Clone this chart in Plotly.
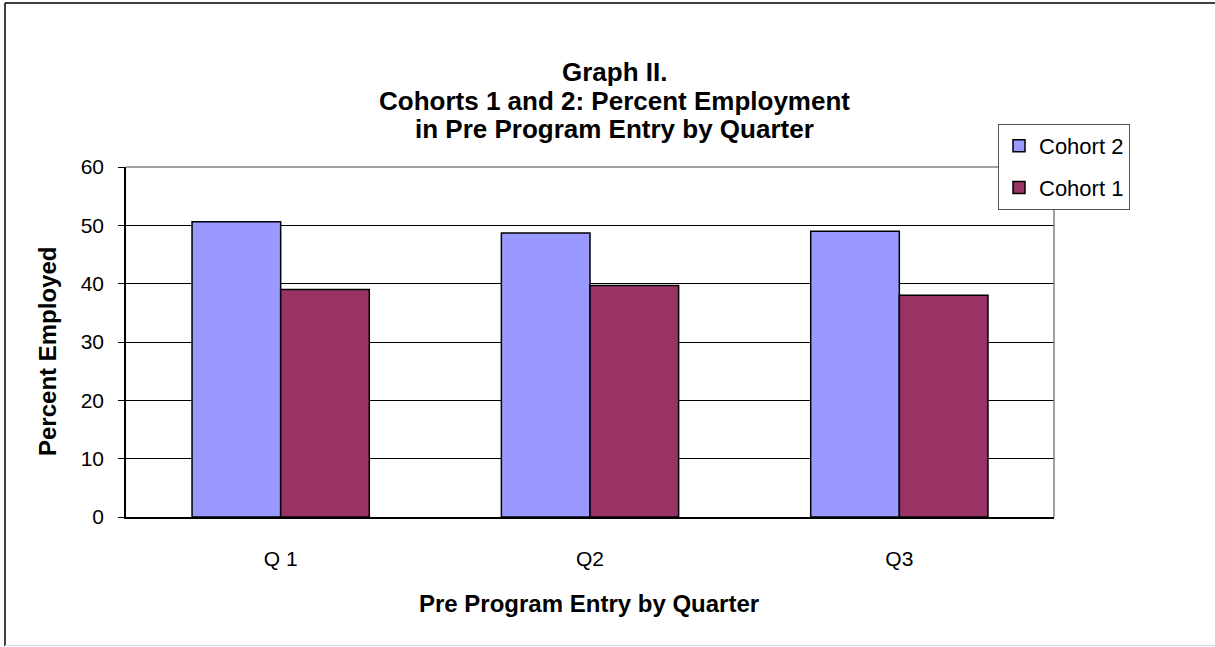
import plotly.graph_objects as go

categories = ["Q 1", "Q2", "Q3"]
cohort2 = [50.6, 48.7, 49.0]
cohort1 = [39.0, 39.7, 38.0]
y_ticks = [0, 10, 20, 30, 40, 50, 60]
title_lines = ["Graph II.", "Cohorts 1 and 2: Percent Employment", "in Pre Program Entry by Quarter"]

W, H = 1215, 647
ML, MR, MT, MB = 126, 161, 167, 130
PW, PH = W - ML - MR, H - MT - MB

def px_x(p):
    return (p - ML) / PW

def px_y(p):
    return (H - MB - p) / PH

FONT = "Liberation Sans, Arial, sans-serif"

fig = go.Figure()
fig.add_trace(go.Bar(x=categories, y=cohort2, name="Cohort 2", legendgroup="c2",
                     marker=dict(color="#9999FF", line=dict(color="black", width=1.5))))
fig.add_trace(go.Bar(x=categories, y=cohort1, name="Cohort 1", legendgroup="c1",
                     marker=dict(color="#993366", line=dict(color="black", width=1.5))))

fig.update_layout(
    width=W, height=H,
    margin=dict(l=ML, r=MR, t=MT, b=MB),
    paper_bgcolor="white", plot_bgcolor="white",
    font=dict(family=FONT, color="black", size=20),
    bargap=0.427, bargroupgap=0,
    legend=dict(x=px_x(998), y=px_y(124), xanchor="left", yanchor="top",
                bordercolor="#555555", borderwidth=1, bgcolor="white",
                font=dict(size=22, family=FONT), tracegroupgap=10,
                traceorder="grouped"),
    showlegend=True,
)

title_y = [72, 101, 129]
for line, yp in zip(title_lines, title_y):
    fig.add_annotation(text=f"<b>{line}</b>", xref="paper", yref="paper",
                       x=px_x(614), y=px_y(yp), xanchor="center", yanchor="middle",
                       showarrow=False, font=dict(size=26, family=FONT))

fig.update_xaxes(showline=True, linecolor="black", linewidth=1.5, showgrid=False,
                 ticks="", ticklabelstandoff=22, tickfont=dict(size=21))
fig.update_yaxes(range=[0, 60], tickvals=y_ticks, showline=True, linecolor="black", linewidth=1.5,
                 showgrid=True, gridcolor="black", gridwidth=1, zeroline=False,
                 ticks="outside", ticklen=6, tickcolor="black", ticklabelstandoff=10,
                 tickfont=dict(size=21))

fig.add_annotation(text="<b>Pre Program Entry by Quarter</b>", xref="paper", yref="paper",
                   x=px_x(589), y=px_y(603), xanchor="center", yanchor="middle",
                   showarrow=False, font=dict(size=24, family=FONT))
fig.add_annotation(text="<b>Percent Employed</b>", xref="paper", yref="paper",
                   x=px_x(47), y=px_y(352), xanchor="center", yanchor="middle", textangle=-90,
                   showarrow=False, font=dict(size=24, family=FONT))

# plot area border (top and right, gray)
fig.add_shape(type="line", xref="paper", yref="paper", x0=0, x1=1, y0=1, y1=1,
              line=dict(color="#808080", width=1.5), layer="above")
fig.add_shape(type="line", xref="paper", yref="paper", x0=1, x1=1, y0=0, y1=1,
              line=dict(color="#808080", width=1.5), layer="above")
# outer chart border
fig.add_shape(type="line", xref="paper", yref="paper", x0=px_x(5), x1=px_x(5), y0=px_y(3), y1=px_y(646),
              line=dict(color="black", width=1.5))
fig.add_shape(type="line", xref="paper", yref="paper", x0=px_x(5), x1=px_x(1216), y0=px_y(3), y1=px_y(3),
              line=dict(color="black", width=1.5))
fig.add_shape(type="line", xref="paper", yref="paper", x0=px_x(5), x1=px_x(1216), y0=px_y(645.5), y1=px_y(645.5),
              line=dict(color="#d8d8d8", width=1))

fig.write_html("out.html")
